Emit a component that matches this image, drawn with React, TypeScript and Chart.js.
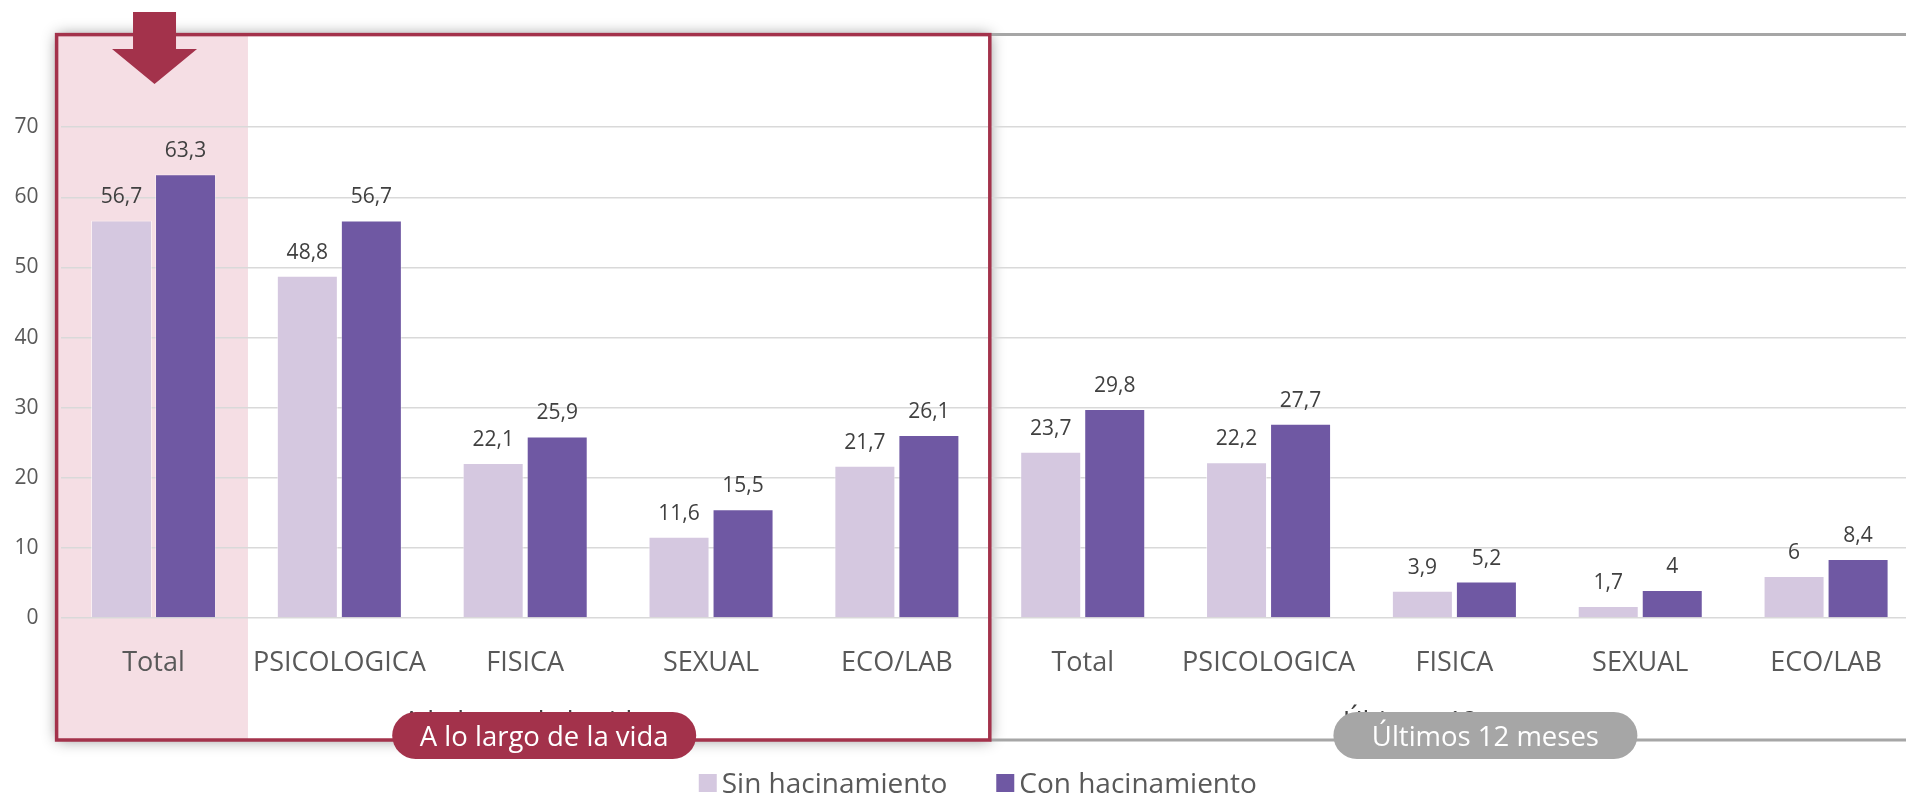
import React, { useEffect, useRef } from "react";
import { Chart, registerables } from "chart.js";

Chart.register(...registerables);

// ---- data ----
const categories = ["Total", "PSICOLOGICA", "FISICA", "SEXUAL", "ECO/LAB", "Total", "PSICOLOGICA", "FISICA", "SEXUAL", "ECO/LAB"];
const periods = ["A lo largo de la vida", "Últimos 12 meses"];
const seriesNames = ["Sin hacinamiento", "Con hacinamiento"];
const sinHacinamiento = [56.7, 48.8, 22.1, 11.6, 21.7, 23.7, 22.2, 3.9, 1.7, 6];
const conHacinamiento = [63.3, 56.7, 25.9, 15.5, 26.1, 29.8, 27.7, 5.2, 4, 8.4];
const yTicks = [0, 10, 20, 30, 40, 50, 60, 70];

// ---- style ----
const W = 1925;
const H = 796;
const FONT = "'Open Sans', sans-serif";
const RED = "#A3324B";
const GRAY = "#A6A6A6";
const PINK = "#F5DEE4";
const SIN_COLOR = "#D5C8E0";
const CON_COLOR = "#6F58A3";

const fmt = (v: number) => String(v).replace(".", ",");

const overlayPlugin = {
  id: "overlay",
  beforeDraw(chart: any) {
    const { ctx, chartArea, scales } = chart;
    const x = scales.x;
    const half = (x.getPixelForValue(1) - x.getPixelForValue(0)) / 2;
    const fL = chartArea.left - 4;
    const fT = chartArea.top;
    const fB = H - 56;
    const fR = x.getPixelForValue(4) + half;
    // outer shadow of the highlight frame
    ctx.save();
    ctx.beginPath();
    ctx.rect(0, 0, W, H);
    ctx.rect(fL, fT, fR - fL, fB - fT);
    ctx.clip("evenodd");
    ctx.shadowColor = "rgba(0,0,0,0.45)";
    ctx.shadowBlur = 14;
    ctx.fillStyle = "#ffffff";
    ctx.fillRect(fL, fT, fR - fL, fB - fT);
    ctx.restore();
    // pink highlight column
    ctx.save();
    ctx.fillStyle = PINK;
    const pR = x.getPixelForValue(0) + half + 1.5;
    ctx.fillRect(fL, fT, pR - fL, fB - fT);
    ctx.restore();
  },
  afterDatasetsDraw(chart: any) {
    const { ctx } = chart;
    ctx.save();
    ctx.font = `21px ${FONT}`;
    ctx.fillStyle = "#404040";
    ctx.textAlign = "center";
    ctx.textBaseline = "alphabetic";
    chart.data.datasets.forEach((ds: any, i: number) => {
      const meta = chart.getDatasetMeta(i);
      meta.data.forEach((bar: any, j: number) => {
        ctx.fillText(fmt(ds.data[j]), bar.x, bar.y - 17);
      });
    });
    ctx.restore();
  },
  afterDraw(chart: any) {
    const { ctx, chartArea, scales } = chart;
    const x = scales.x;
    const half = (x.getPixelForValue(1) - x.getPixelForValue(0)) / 2;
    const fL = chartArea.left - 4;
    const fT = chartArea.top;
    const fB = H - 56;
    const fR = x.getPixelForValue(4) + half;

    ctx.save();
    // gray frame (second period)
    ctx.strokeStyle = GRAY;
    ctx.lineWidth = 3;
    ctx.beginPath();
    ctx.moveTo(fR, fT);
    ctx.lineTo(W, fT);
    ctx.moveTo(fR, fB);
    ctx.lineTo(W, fB);
    ctx.stroke();
    // red frame
    ctx.strokeStyle = RED;
    ctx.lineWidth = 3.5;
    ctx.strokeRect(fL, fT, fR - fL, fB - fT);

    // arrow
    const cx = x.getPixelForValue(0) + 1;
    ctx.fillStyle = RED;
    ctx.beginPath();
    ctx.moveTo(cx - 21.5, 12);
    ctx.lineTo(cx + 21.5, 12);
    ctx.lineTo(cx + 21.5, 49);
    ctx.lineTo(cx + 42.5, 49);
    ctx.lineTo(cx, 84);
    ctx.lineTo(cx - 42.5, 49);
    ctx.lineTo(cx - 21.5, 49);
    ctx.closePath();
    ctx.fill();

    // group (second-level) labels, mostly hidden by the pills
    const groupCenters = [
      (x.getPixelForValue(0) + x.getPixelForValue(4)) / 2,
      (x.getPixelForValue(5) + x.getPixelForValue(9)) / 2,
    ];
    ctx.font = `27px ${FONT}`;
    ctx.fillStyle = "#404040";
    ctx.textAlign = "center";
    ctx.textBaseline = "alphabetic";
    periods.forEach((p, i) => ctx.fillText(p, groupCenters[i], 731));

    // pills
    const pillOffsets = [19, 31];
    const pillColors = [RED, GRAY];
    const pw = 304, ph = 47, py = 712;
    periods.forEach((p, i) => {
      const pc = groupCenters[i] + pillOffsets[i];
      ctx.fillStyle = pillColors[i];
      ctx.beginPath();
      ctx.roundRect(pc - pw / 2, py, pw, ph, ph / 2);
      ctx.fill();
      ctx.fillStyle = "#ffffff";
      ctx.font = `27.5px ${FONT}`;
      ctx.fillText(p, pc, py + 34);
    });

    // legend
    ctx.font = `28px ${FONT}`;
    ctx.textAlign = "left";
    const items = chart.data.datasets.map((d: any) => ({
      label: d.label,
      color: d.backgroundColor,
      w: ctx.measureText(d.label).width,
    }));
    const sw = 18, gapT = 5, gapI = 49;
    const total = items.reduce((s: number, it: any) => s + sw + gapT + it.w, 0) + gapI * (items.length - 1);
    let lx = (chartArea.left + chartArea.right) / 2 - 12 - total / 2;
    items.forEach((it: any) => {
      ctx.fillStyle = it.color;
      ctx.fillRect(lx, 774, sw, sw);
      ctx.fillStyle = "#595959";
      ctx.fillText(it.label, lx + sw + gapT, 793);
      lx += sw + gapT + it.w + gapI;
    });
    ctx.restore();
  },
};

export default function App() {
  const ref = useRef<HTMLCanvasElement | null>(null);

  useEffect(() => {
    let chart: Chart | null = null;
    let cancelled = false;
    const make = () => {
      if (cancelled || !ref.current) return;
      Chart.defaults.font.family = FONT;
      chart = new Chart(ref.current, {
        type: "bar",
        data: {
          labels: categories,
          datasets: [
            {
              label: seriesNames[0],
              data: sinHacinamiento,
              backgroundColor: SIN_COLOR,
              borderColor: "rgba(255,255,255,0.5)",
              borderWidth: 1,
              categoryPercentage: 0.689,
              barPercentage: 0.953,
            },
            {
              label: seriesNames[1],
              data: conHacinamiento,
              backgroundColor: CON_COLOR,
              borderColor: "rgba(255,255,255,0.35)",
              borderWidth: 1,
              categoryPercentage: 0.689,
              barPercentage: 0.953,
            },
          ],
        },
        options: {
          animation: false,
          responsive: false,
          devicePixelRatio: 1,
          layout: { padding: { top: 32, right: 6, left: 0, bottom: 0 } },
          plugins: { legend: { display: false }, tooltip: { enabled: false } },
          scales: {
            x: {
              grid: { display: false, drawTicks: false },
              border: { display: false },
              ticks: {
                color: "#595959",
                font: { size: 27, family: FONT },
                padding: 29,
                maxRotation: 0,
                autoSkip: false,
              },
              afterFit: (s: any) => {
                s.height = 178;
              },
            },
            y: {
              min: 0,
              max: 83.2,
              afterBuildTicks: (s: any) => {
                s.ticks = yTicks.map((v) => ({ value: v }));
              },
              afterFit: (s: any) => {
                s.width = 60.6;
              },
              grid: { color: "#D9D9D9", lineWidth: 1.5, drawTicks: false },
              border: { display: false },
              ticks: {
                color: "#595959",
                font: { size: 21, family: FONT },
                padding: 22,
              },
            },
          },
        },
        plugins: [overlayPlugin],
      } as any);
    };
    const fontsReady = (document as any).fonts
      ? Promise.all([
          (document as any).fonts.load(`27px "Open Sans"`),
          (document as any).fonts.load(`20px "Open Sans"`),
        ])
      : Promise.resolve();
    fontsReady.then(make, make);
    return () => {
      cancelled = true;
      if (chart) chart.destroy();
    };
  }, []);

  return (
    <div
      style={{
        position: "fixed",
        left: 0,
        top: 0,
        width: 1906,
        height: 796,
        overflow: "hidden",
        background: "#ffffff",
      }}
    >
      <canvas ref={ref} width={W} height={H} style={{ width: W, height: H, display: "block" }} />
    </div>
  );
}
